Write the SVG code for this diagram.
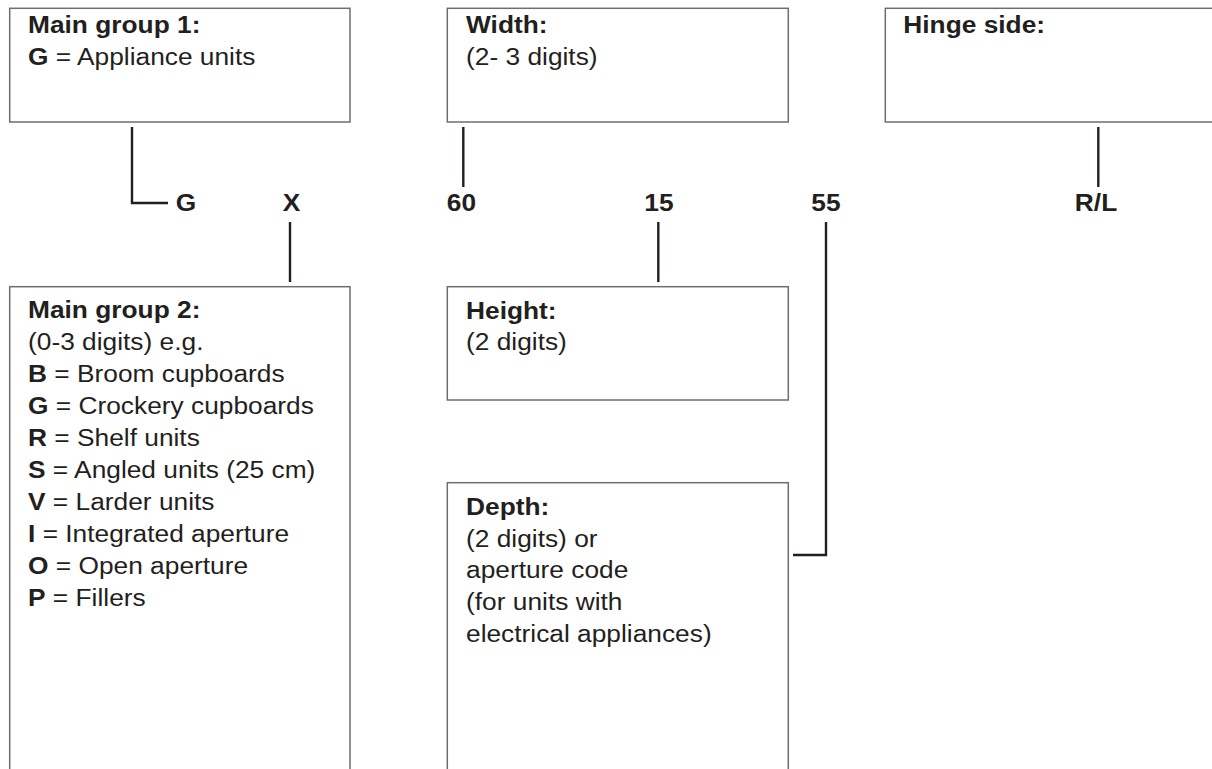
<svg xmlns="http://www.w3.org/2000/svg" width="1212" height="769" viewBox="0 0 1212 769">
<style>
.box{fill:#fff;stroke:#6d6e70;stroke-width:1.5}
.con{fill:none;stroke:#231f20;stroke-width:2.4}
text{font-family:"Liberation Sans",Arial,sans-serif;font-size:23.5px;fill:#231f20}
.b{font-weight:bold}
.lab{font-weight:bold;text-anchor:middle}
</style>
<rect width="1212" height="769" fill="#fff"/>
<g id="connectors">
<path class="con" d="M132 127V203H168"/>
<path class="con" d="M290 222V282"/>
<path class="con" d="M463.3 127V187"/>
<path class="con" d="M658.3 222V282"/>
<path class="con" d="M826 222V555H793"/>
<path class="con" d="M1098.3 127V187"/>
</g>
<g id="main-group-1">
<rect class="box" x="9.7" y="8.3" width="340.3" height="113.7"/>
<text transform="translate(28 33.3) scale(1.12 1)"><tspan class="b" x="0" y="0">Main group 1:</tspan><tspan x="0" y="31.7"><tspan class="b">G</tspan> = Appliance units</tspan></text>
</g>
<g id="width">
<rect class="box" x="447.3" y="8.3" width="341" height="113.7"/>
<text transform="translate(466 33.3) scale(1.12 1)"><tspan class="b" x="0" y="0">Width:</tspan><tspan x="0" y="31.7">(2- 3 digits)</tspan></text>
</g>
<g id="hinge-side">
<rect class="box" x="885.3" y="8.3" width="340" height="113.7"/>
<text class="b" transform="translate(903.3 33.3) scale(1.12 1)">Hinge side:</text>
</g>
<g id="main-group-2">
<rect class="box" x="9.7" y="286.7" width="340.3" height="500"/>
<text transform="translate(28 318) scale(1.12 1)"><tspan class="b" x="0" y="0">Main group 2:</tspan><tspan x="0" y="32">(0-3 digits) e.g.</tspan><tspan x="0" y="64"><tspan class="b">B</tspan> = Broom cupboards</tspan><tspan x="0" y="96"><tspan class="b">G</tspan> = Crockery cupboards</tspan><tspan x="0" y="128"><tspan class="b">R</tspan> = Shelf units</tspan><tspan x="0" y="160"><tspan class="b">S</tspan> = Angled units (25 cm)</tspan><tspan x="0" y="192"><tspan class="b">V</tspan> = Larder units</tspan><tspan x="0" y="224"><tspan class="b">I</tspan> = Integrated aperture</tspan><tspan x="0" y="256"><tspan class="b">O</tspan> = Open aperture</tspan><tspan x="0" y="288"><tspan class="b">P</tspan> = Fillers</tspan></text>
</g>
<g id="height">
<rect class="box" x="447.3" y="286.7" width="341" height="113.3"/>
<text transform="translate(466 318.5) scale(1.12 1)"><tspan class="b" x="0" y="0">Height:</tspan><tspan x="0" y="32">(2 digits)</tspan></text>
</g>
<g id="depth">
<rect class="box" x="447.3" y="482.7" width="341" height="310"/>
<text transform="translate(466 515) scale(1.12 1)"><tspan class="b" x="0" y="0">Depth:</tspan><tspan x="0" y="31.7">(2 digits) or</tspan><tspan x="0" y="63.4">aperture code</tspan><tspan x="0" y="95.1">(for units with</tspan><tspan x="0" y="126.8">electrical appliances)</tspan></text>
</g>
<g id="code-labels">
<text class="lab" transform="translate(186 210.5) scale(1.12 1)">G</text>
<text class="lab" transform="translate(291.5 210.5) scale(1.12 1)">X</text>
<text class="lab" transform="translate(461.5 210.5) scale(1.12 1)">60</text>
<text class="lab" transform="translate(659 210.5) scale(1.12 1)">15</text>
<text class="lab" transform="translate(826 210.5) scale(1.12 1)">55</text>
<text class="lab" transform="translate(1096 210.5) scale(1.12 1)">R/L</text>
</g>
</svg>
